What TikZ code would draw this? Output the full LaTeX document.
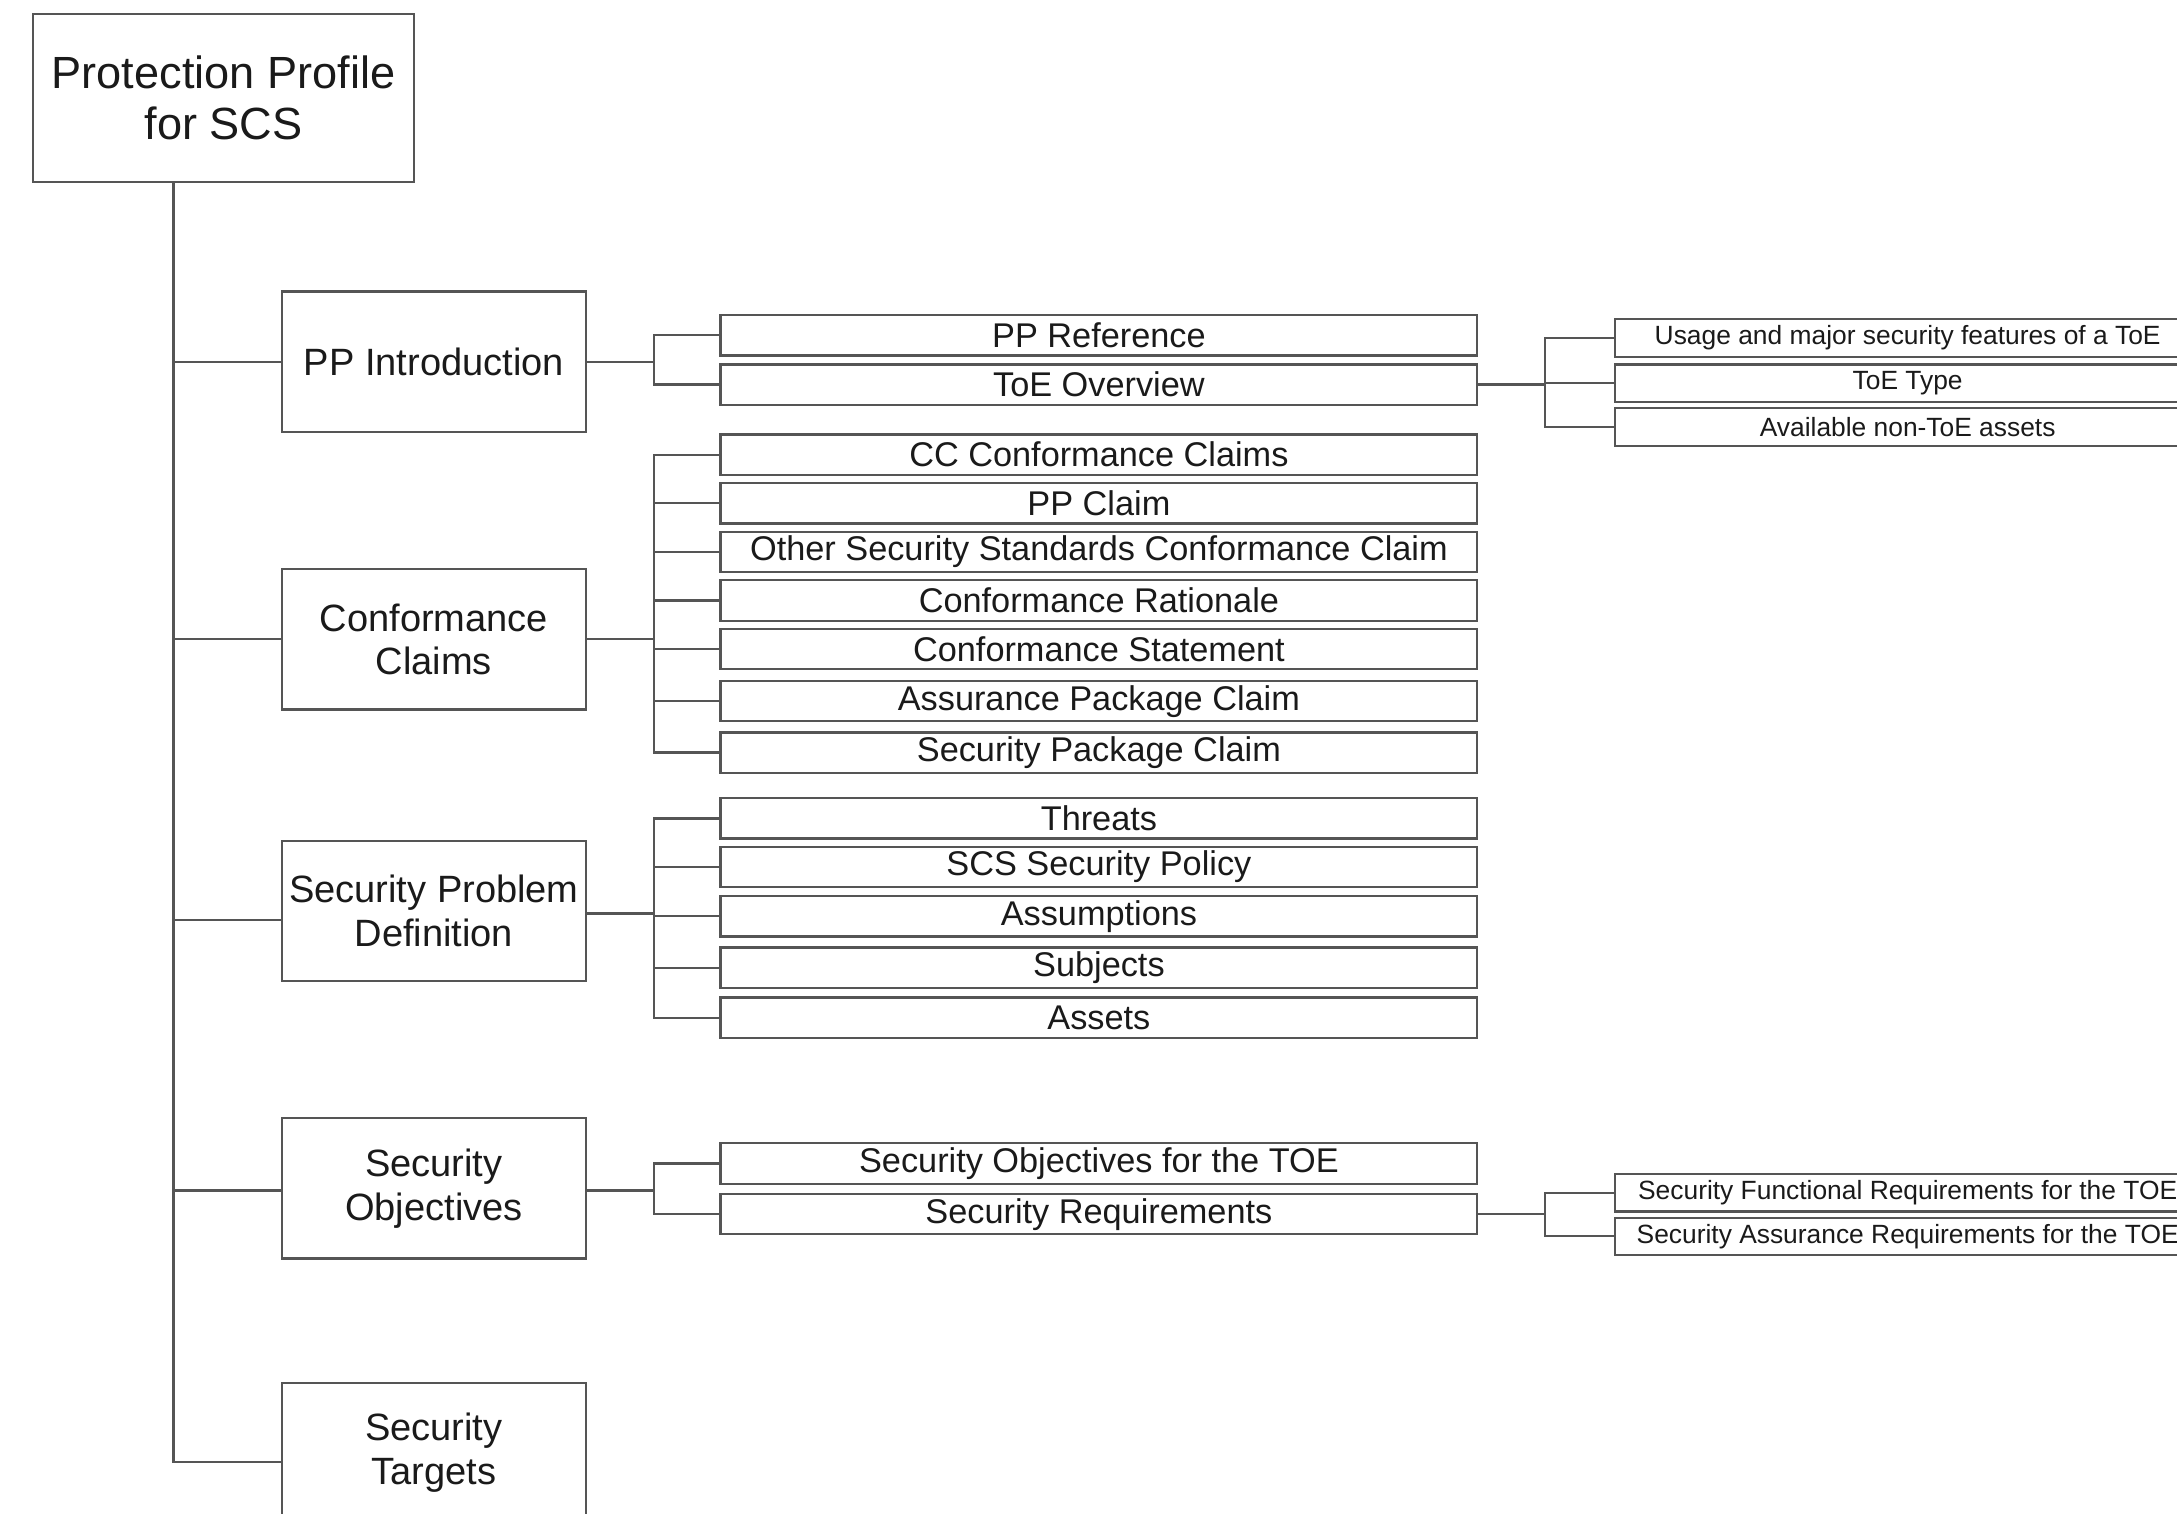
\documentclass[tikz,border=0pt]{standalone}
\usepackage{fontspec}
\setmainfont{Liberation Sans}
\usepackage{tikz}
\usetikzlibrary{positioning}
\definecolor{linegray}{HTML}{555555}
\definecolor{textgray}{HTML}{1A1A1A}
\tikzstyle{rootbox}=[draw=linegray,line width=1.6pt,inner sep=0pt,align=center,text=textgray,minimum width=274pt,minimum height=121pt,font=\fontsize{32.5}{37}\selectfont]
\tikzstyle{partbox}=[rootbox,minimum width=219pt,minimum height=101pt,font=\fontsize{27.4}{31.5}\selectfont]
\tikzstyle{itembox}=[rootbox,minimum width=545pt,minimum height=29pt,font=\fontsize{24.7}{28}\selectfont]
\tikzstyle{subbox}=[rootbox,minimum width=422pt,minimum height=27pt,font=\fontsize{19}{22}\selectfont]
\tikzstyle{edge} = [draw=linegray,line width=1.6pt,-]

\begin{document}
\begin{tikzpicture}[x=1pt,y=-1pt]
        \useasboundingbox (0,0) rectangle (1568,1090);
        % root and main parts
        \node[rootbox] (pps) at (161,70.5) {Protection Profile\\for SCS};
        \node[partbox] (intro) at (312.5,260.5) {PP Introduction};
        \node[partbox] (conf) at (312.5,460.5) {Conformance\\Claims};
        \node[partbox] (spd) at (312.5,656) {Security Problem\\Definition};
        \node[partbox] (obj) at (312.5,856) {Security\\Objectives};
        \node[partbox] (tgt) at (312.5,1046.5) {Security\\Targets};
        % items
        \node[itembox] (ppref) at (791.5,241.5) {PP Reference};
        \node[itembox] (toeov) at (791.5,277) {ToE Overview};
        \node[itembox] (ccc) at (791.5,327.5) {CC Conformance Claims};
        \node[itembox] (ppcl) at (791.5,362.5) {PP Claim};
        \node[itembox] (other) at (791.5,397.5) {Other Security Standards Conformance Claim};
        \node[itembox] (ratio) at (791.5,432.5) {Conformance Rationale};
        \node[itembox] (stat) at (791.5,467.5) {Conformance Statement};
        \node[itembox] (apc) at (791.5,505) {Assurance Package Claim};
        \node[itembox] (spc) at (791.5,542) {Security Package Claim};
        \node[itembox] (thr) at (791.5,589.5) {Threats};
        \node[itembox] (pol) at (791.5,624.5) {SCS Security Policy};
        \node[itembox] (assm) at (791.5,660) {Assumptions};
        \node[itembox] (subj) at (791.5,697) {Subjects};
        \node[itembox] (asst) at (791.5,733) {Assets};
        \node[itembox] (soto) at (791.5,838) {Security Objectives for the TOE};
        \node[itembox] (sreq) at (791.5,874.5) {Security Requirements};
        % sub items
        \node[subbox] (usage) at (1374,243.5) {Usage and major security features of a ToE};
        \node[subbox] (toet) at (1374,276) {ToE Type};
        \node[subbox] (avail) at (1374,307.5) {Available non-ToE assets};
        \node[subbox] (sfr) at (1374,859) {Security Functional Requirements for the TOE};
        \node[subbox] (sar) at (1374,890.5) {Security Assurance Requirements for the TOE};
        % junctions
        \coordinate (trunk) at (125,131);
        \coordinate (introj) at (471,260.5);
        \coordinate (confj) at (471,460.5);
        \coordinate (spdj) at (471,658);
        \coordinate (objj) at (471,857.5);
        \coordinate (toej) at (1113,277);
        \coordinate (sreqj) at (1113,874.5);
        % tree
        \draw[edge] (trunk) |- (intro.west);
        \draw[edge] (trunk) |- (conf.west);
        \draw[edge] (trunk) |- ([yshift=-6.5pt]spd.west);
        \draw[edge] (trunk) |- ([yshift=-1.5pt]obj.west);
        \draw[edge] (trunk) |- ([yshift=-6.5pt]tgt.west);
        \draw[edge] (intro.east) -- (introj);
        \draw[edge] (introj) |- (ppref.west);
        \draw[edge] (introj) |- (toeov.west);
        \draw[edge] (conf.east) -- (confj);
        \draw[edge] (confj) |- (ccc.west);
        \draw[edge] (confj) |- (ppcl.west);
        \draw[edge] (confj) |- (other.west);
        \draw[edge] (confj) |- (ratio.west);
        \draw[edge] (confj) |- (stat.west);
        \draw[edge] (confj) |- (apc.west);
        \draw[edge] (confj) |- (spc.west);
        \draw[edge] ([yshift=-2pt]spd.east) -- (spdj);
        \draw[edge] (spdj) |- (thr.west);
        \draw[edge] (spdj) |- (pol.west);
        \draw[edge] (spdj) |- (assm.west);
        \draw[edge] (spdj) |- (subj.west);
        \draw[edge] (spdj) |- (asst.west);
        \draw[edge] ([yshift=-1.5pt]obj.east) -- (objj);
        \draw[edge] (objj) |- (soto.west);
        \draw[edge] (objj) |- (sreq.west);
        \draw[edge] (toeov.east) -- (toej);
        \draw[edge] (toej) |- (usage.west);
        \draw[edge] (toej) |- (toet.west);
        \draw[edge] (toej) |- (avail.west);
        \draw[edge] (sreq.east) -- (sreqj);
        \draw[edge] (sreqj) |- (sfr.west);
        \draw[edge] (sreqj) |- (sar.west);
      \end{tikzpicture}
\end{document}
